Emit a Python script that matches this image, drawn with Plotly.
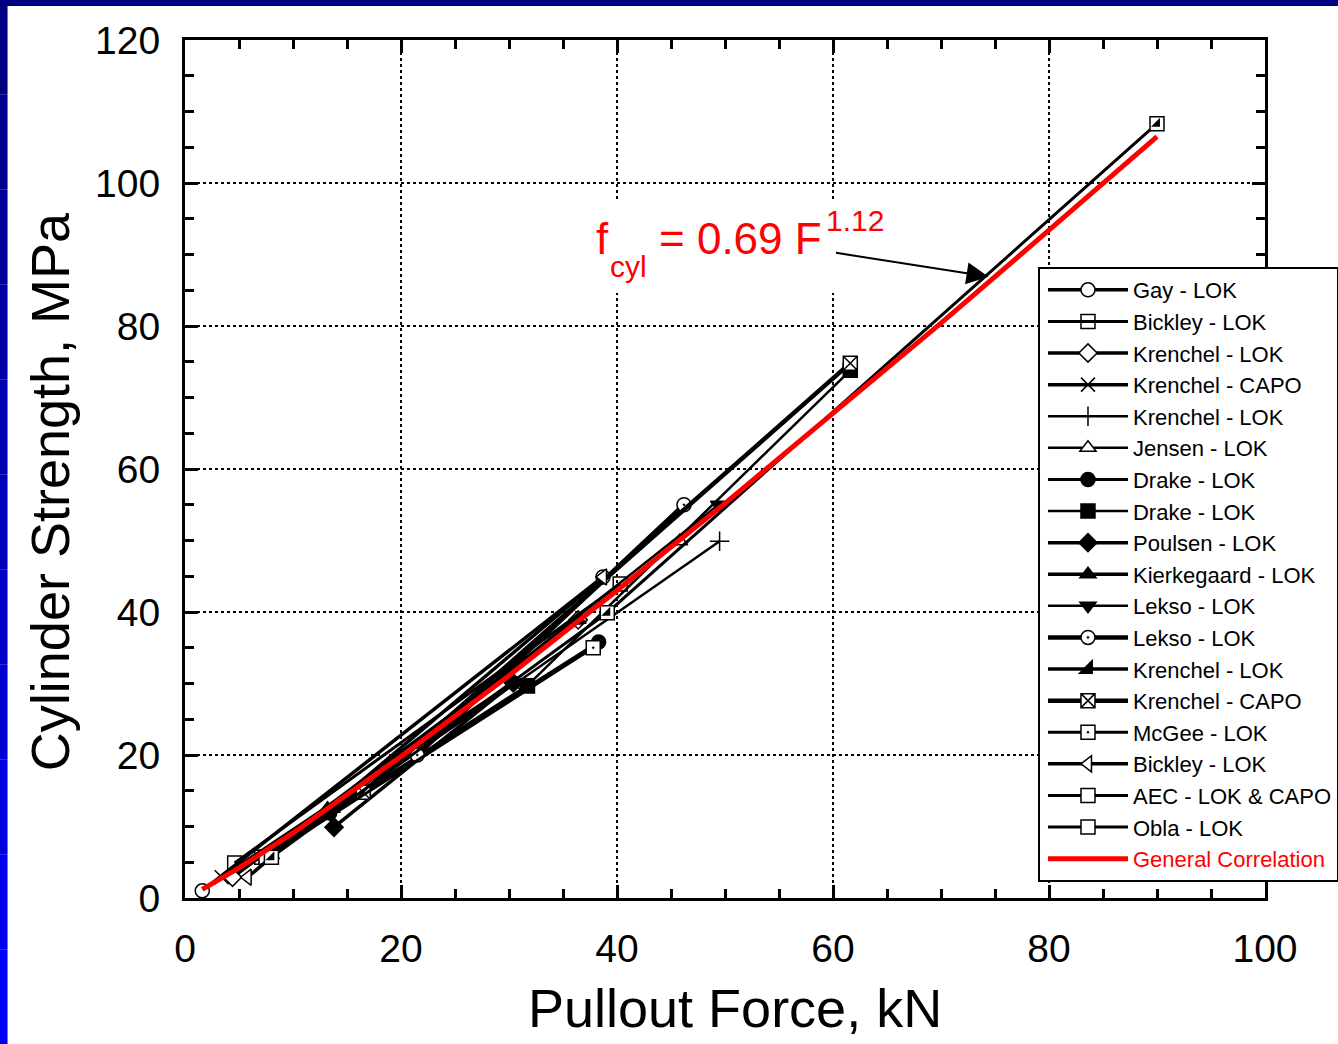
import plotly.graph_objects as go

# ---- data ----
gay_x = [1.6, 38.7]
gay_y = [1.0, 44.9]
bickley1_x = [4.6, 40.3]
bickley1_y = [4.9, 43.9]
krenchel_lok1_x = [4.4, 36.4]
krenchel_lok1_y = [2.9, 38.9]
krenchel_capo1_x = [3.4, 30.4]
krenchel_capo1_y = [2.9, 30.1]
krenchel_lok2_x = [13.5, 49.5]
krenchel_lok2_y = [12.0, 49.9]
jensen_x = [8.0, 45.8]
jensen_y = [6.0, 49.9]
drake1_x = [13.4, 38.3]
drake1_y = [11.9, 35.8]
drake2_x = [31.7, 61.6]
drake2_y = [29.7, 73.8]
poulsen_x = [13.8, 30.4]
poulsen_y = [9.9, 30.1]
kierkegaard_x = [13.2, 36.4]
kierkegaard_y = [12.5, 38.9]
lekso1_x = [13.4, 49.4]
lekso1_y = [11.9, 55.0]
lekso2_x = [21.5, 46.2]
lekso2_y = [20.0, 55.0]
krenchel_lok3_x = [13.3, 36.4]
krenchel_lok3_y = [12.3, 38.9]
krenchel_capo2_x = [16.5, 61.6]
krenchel_capo2_y = [14.8, 74.8]
mcgee_x = [7.5, 37.8]
mcgee_y = [5.7, 35.0]
bickley2_x = [5.8, 38.7]
bickley2_y = [2.9, 44.9]
aec_x = [8.0, 39.1, 90.0]
aec_y = [5.7, 39.9, 108.3]
obla_x = [7.1, 31.7]
obla_y = [5.7, 29.7]

general_x = [1.6, 5, 10, 20, 30, 40, 50, 60, 70, 80, 90]
general_y = [1.2, 4.2, 9.1, 19.8, 31.1, 43.0, 55.2, 67.7, 80.4, 93.4, 106.5]

x_ticks = [0, 20, 40, 60, 80, 100]
y_ticks = [0, 20, 40, 60, 80, 100, 120]

FONT = "Arial, Liberation Sans, sans-serif"

# legend rank, name, x, y, symbol, fill colour, line width
series = [
    (1, "Gay - LOK", gay_x, gay_y, "circle", "white", 3.5),
    (2, "Bickley - LOK", bickley1_x, bickley1_y, "square-open", "black", 3),
    (3, "Krenchel - LOK", krenchel_lok1_x, krenchel_lok1_y, "diamond", "white", 3.5),
    (4, "Krenchel - CAPO", krenchel_capo1_x, krenchel_capo1_y, "x-thin-open", "black", 3.5),
    (5, "Krenchel - LOK", krenchel_lok2_x, krenchel_lok2_y, "cross-thin-open", "black", 2.5),
    (6, "Jensen - LOK", jensen_x, jensen_y, "triangle-up", "white", 2.5),
    (7, "Drake - LOK", drake1_x, drake1_y, "circle", "black", 3),
    (8, "Drake - LOK", drake2_x, drake2_y, "square", "black", 2.5),
    (9, "Poulsen - LOK", poulsen_x, poulsen_y, "diamond", "black", 3.5),
    (10, "Kierkegaard - LOK", kierkegaard_x, kierkegaard_y, "triangle-up", "black", 3.5),
    (11, "Lekso - LOK", lekso1_x, lekso1_y, "triangle-down", "black", 2.5),
    (12, "Lekso - LOK", lekso2_x, lekso2_y, "circle-dot", "white", 4.5),
    (13, "Krenchel - LOK", krenchel_lok3_x, krenchel_lok3_y, "triangle-se", "black", 3.5),
    (14, "Krenchel - CAPO", krenchel_capo2_x, krenchel_capo2_y, "square-x", "white", 4.5),
    (15, "McGee - LOK", mcgee_x, mcgee_y, "square-dot", "white", 3),
    (16, "Bickley - LOK", bickley2_x, bickley2_y, "triangle-left", "white", 3.5),
    (17, "AEC - LOK & CAPO", aec_x, aec_y, "square", "white", 3),
    (18, "Obla - LOK", obla_x, obla_y, "square", "white", 3),
]

# series whose far end sits under another marker are drawn first
draw_first = [18, 1, 4, 3, 13, 11]
order = [s for r in draw_first for s in series if s[0] == r] + \
        [s for s in series if s[0] not in draw_first]

fig = go.Figure()

for rank, name, xs, ys, sym, fill, lw in order:
    fig.add_trace(go.Scatter(
        x=xs, y=ys, name=name, mode="lines+markers", legendrank=rank,
        line=dict(color="black", width=lw),
        marker=dict(symbol=sym, size=14, color=fill,
                    line=dict(color="black", width=1.5)),
    ))
    # half-filled squares (not in legend)
    if rank == 17:
        fig.add_trace(go.Scatter(x=xs, y=ys, mode="markers", showlegend=False,
                                 marker=dict(symbol="triangle-se", size=10, color="black")))
    if rank == 18:
        fig.add_trace(go.Scatter(x=xs, y=ys, mode="markers", showlegend=False,
                                 marker=dict(symbol="triangle-nw", size=10, color="black")))

fig.add_trace(go.Scatter(
    x=general_x, y=general_y, mode="lines", legendrank=19,
    name="<span style='color:#ff0000'>General Correlation</span>",
    line=dict(color="#ff0000", width=5),
))

axis_common = dict(
    showline=True, linecolor="black", linewidth=3, mirror="ticks",
    ticks="inside", ticklen=13, tickwidth=3, tickcolor="black",
    showgrid=True, gridcolor="black", griddash="dot", gridwidth=2,
    zeroline=False,
    tickfont=dict(size=39, color="black", family=FONT),
    minor=dict(dtick=5, ticks="inside", ticklen=9, tickwidth=3,
               tickcolor="black", showgrid=False),
)

fig.update_xaxes(range=[0, 100], tickvals=x_ticks, ticklabelstandoff=14, **axis_common)
fig.update_yaxes(range=[0, 120], tickvals=y_ticks, ticklabelstandoff=14, **axis_common)

# axis titles
fig.add_annotation(x=0.509, y=-0.128, xref="paper", yref="paper", showarrow=False,
                   text="Pullout Force, kN", xanchor="center", yanchor="middle",
                   font=dict(size=54, color="black", family=FONT))
fig.add_annotation(x=-0.125, y=0.473, xref="paper", yref="paper", showarrow=False,
                   text="Cylinder Strength, MPa", textangle=-90,
                   xanchor="center", yanchor="middle",
                   font=dict(size=54, color="black", family=FONT))

# correlation label: white patch, text pieces, arrow
shapes = [dict(type="rect", xref="x", yref="y", x0=37.5, x1=65.5, y0=84.6, y1=97.6,
               fillcolor="white", line=dict(width=0), layer="between")]
RED = "#ff0000"
for txt, px, py, size in [("f", 0.3787, 0.7692, 44),
                          ("cyl", 0.3917, 0.7360, 30),
                          ("= 0.69 F", 0.4370, 0.7692, 44),
                          ("1.12", 0.5917, 0.7900, 30)]:
    fig.add_annotation(x=px, y=py, xref="paper", yref="paper", showarrow=False,
                       text=txt, xanchor="left", yanchor="middle",
                       font=dict(size=size, color=RED, family=FONT))
fig.add_annotation(
    x=74.4, y=86.9, ax=60.0, ay=90.3, xref="x", yref="y", axref="x", ayref="y",
    text=" ", showarrow=True, arrowhead=2, arrowsize=2.2, arrowwidth=2, arrowcolor="black",
)

# blue slide border
shapes.append(dict(type="rect", xref="paper", yref="paper", x0=-0.172, x1=1.07,
                   y0=1.0396, y1=1.047, fillcolor="#000080", line=dict(width=0), layer="above"))
blues = ["#000080", "#00008c", "#000098", "#0000a4", "#0000b0", "#0000bc",
         "#0000c8", "#0000d4", "#0000e0", "#0000ec", "#0000f8"]
n = len(blues)
for i, c in enumerate(blues):
    top = 1.047 - i * (1.047 + 0.171) / n
    bot = 1.047 - (i + 1) * (1.047 + 0.171) / n
    shapes.append(dict(type="rect", xref="paper", yref="paper", x0=-0.172, x1=-0.1643,
                       y0=bot, y1=top, fillcolor=c, line=dict(width=0), layer="above"))

fig.update_layout(
    width=1338, height=1044,
    margin=dict(l=185, r=73, t=40, b=146, autoexpand=False),
    paper_bgcolor="white", plot_bgcolor="white",
    font=dict(family=FONT, color="black"),
    shapes=shapes,
    legend=dict(
        x=0.7898, y=0.7354, xanchor="left", yanchor="top",
        bgcolor="white", bordercolor="black", borderwidth=2,
        font=dict(size=22, color="black", family=FONT),
        itemwidth=80, indentation=3, tracegroupgap=0,
    ),
)

fig.write_html("out.html", config={"displayModeBar": False},
               post_script="document.body.style.margin='0px';")
